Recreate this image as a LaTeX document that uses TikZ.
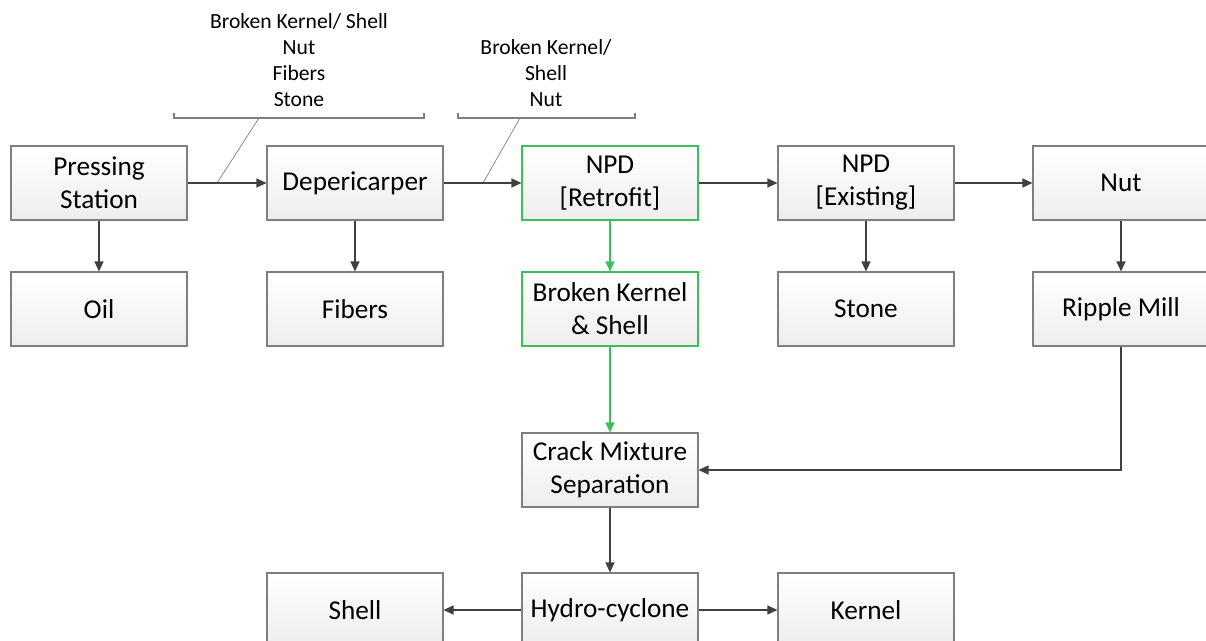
\documentclass[tikz,border=0pt]{standalone}
\usepackage{fontspec}
\setmainfont{Carlito}
\usetikzlibrary{arrows.meta}
\definecolor{edgegray}{HTML}{7F7F7F}
\definecolor{linegray}{HTML}{404040}
\definecolor{npdgreen}{HTML}{3CBE5F}
\begin{document}
\begin{tikzpicture}[box/.style={draw=edgegray, line width=0.6pt, top color=white, bottom color=black!7,
        minimum width=3.52cm, minimum height=1.48cm, align=center, font=\fontsize{15.5}{18.7}\selectfont, inner sep=1pt},
    greenbox/.style={box, draw=npdgreen},
    flow/.style={draw=linegray, line width=0.75pt, -{Triangle[length=2mm,width=1.8mm]}},
    greenflow/.style={flow, draw=npdgreen, fill=npdgreen},
    note/.style={align=center, font=\fontsize{12.3}{14.7}\selectfont},
    bracket/.style={draw=edgegray, line width=0.6pt}]
    \useasboundingbox (0,0) rectangle (24.12,-12.82);

    \node[style=box] (press) at (1.98, -3.66) {Pressing\\Station};
    \node[style=box] (oil) at (1.98, -6.18) {Oil};
    \node[style=box] (deper) at (7.10, -3.66) {Depericarper};
    \node[style=box] (fibers) at (7.10, -6.18) {Fibers};
    \node[style=greenbox] (npdr) at (12.20, -3.66) {NPD\\{[}Retrofit{]}};
    \node[style=greenbox] (broken) at (12.20, -6.18) {Broken Kernel\\\& Shell};
    \node[style=box] (npde) at (17.32, -3.66) {NPD\\{[}Existing{]}};
    \node[style=box] (stone) at (17.32, -6.18) {Stone};
    \node[style=box] (nut) at (22.42, -3.66) {Nut};
    \node[style=box] (ripple) at (22.42, -6.18) {Ripple Mill};
    \node[style=box] (crack) at (12.20, -9.40) {Crack Mixture\\Separation};
    \node[style=box] (hydro) at (12.20, -12.20) {Hydro-cyclone};
    \node[style=box] (shell) at (7.10, -12.20) {Shell};
    \node[style=box] (kernel) at (17.32, -12.20) {Kernel};

    % callouts
    \node[style=note] (note1) at (5.98, -1.20) {Broken Kernel/ Shell\\Nut\\Fibers\\Stone};
    \node[style=note] (note2) at (10.92, -1.46) {Broken Kernel/\\Shell\\Nut};
    \coordinate (tip1) at (4.34, -3.66);
    \coordinate (foot1) at (5.18, -2.36);
    \coordinate (tip2) at (9.66, -3.66);
    \coordinate (foot2) at (10.40, -2.36);
    \draw[style=bracket] (3.48, -2.26) |- (8.48, -2.36) -- (8.48, -2.26);
    \draw[style=bracket] (9.16, -2.26) |- (12.70, -2.36) -- (12.70, -2.26);
    \draw[style=bracket, line width=0.4pt] (tip1) -- (foot1);
    \draw[style=bracket, line width=0.4pt] (tip2) -- (foot2);

    \draw[flow] (press) -- (deper);
    \draw[flow] (deper) -- (npdr);
    \draw[flow] (npdr) -- (npde);
    \draw[flow] (npde) -- (nut);
    \draw[flow] (press) -- (oil);
    \draw[flow] (deper) -- (fibers);
    \draw[flow] (npde) -- (stone);
    \draw[flow] (nut) -- (ripple);
    \draw[greenflow] (npdr) -- (broken);
    \draw[greenflow] (broken) -- (crack);
    \draw[flow] (ripple) |- (crack);
    \draw[flow] (crack) -- (hydro);
    \draw[flow] (hydro) -- (shell);
    \draw[flow] (hydro) -- (kernel);
\end{tikzpicture}
\end{document}
